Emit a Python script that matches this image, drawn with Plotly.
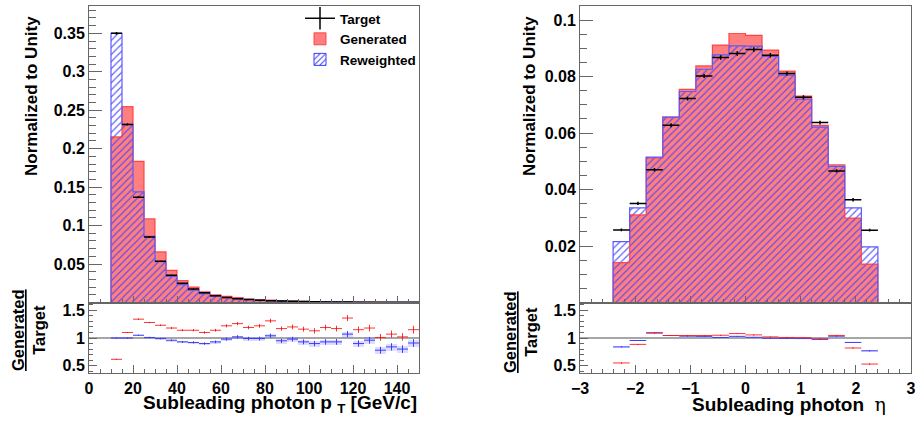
import plotly.graph_objects as go

W, H = 919, 422
FONT = "Liberation Sans, Arial, sans-serif"

# ---------------- data: subleading photon pT (5 GeV bins) ----------------
pt_centers = [12.5, 17.5, 22.5, 27.5, 32.5, 37.5, 42.5, 47.5, 52.5, 57.5,
              62.5, 67.5, 72.5, 77.5, 82.5, 87.5, 92.5, 97.5, 102.5, 107.5,
              112.5, 117.5, 122.5, 127.5, 132.5, 137.5, 142.5, 147.5]
pt_binwidth = 5.0
pt_target = [0.350, 0.2315, 0.137, 0.085, 0.0535, 0.0353, 0.0249, 0.0175, 0.0127, 0.0088,
             0.0066, 0.0050, 0.0038, 0.0030, 0.0024, 0.0019, 0.0015, 0.0012, 0.0010, 0.0008,
             0.00065, 0.00052, 0.00042, 0.00035, 0.00029, 0.00024, 0.0002, 0.00017]
pt_target_err = [0.0018, 0.0015, 0.0012, 0.0010, 0.0008, 0.0007, 0.0006, 0.0005, 0.0004, 0.0004,
                 0.0003, 0.0003, 0.0003, 0.0002, 0.0002, 0.0002, 0.0002, 0.0002, 0.0001, 0.0001,
                 0.0001, 0.0001, 0.0001, 0.0001, 0.0001, 0.0001, 0.0001, 0.0001]
pt_gen_ratio = [0.615, 1.10, 1.34, 1.28, 1.23, 1.18, 1.14, 1.14, 1.10, 1.14,
                1.22, 1.26, 1.19, 1.22, 1.31, 1.17, 1.20, 1.16, 1.13, 1.19,
                1.17, 1.36, 1.15, 1.18, 1.01, 1.07, 1.02, 1.15]
pt_rew_ratio = [1.00, 1.00, 1.05, 1.01, 0.99, 0.96, 0.93, 0.92, 0.90, 0.93,
                0.98, 1.02, 0.99, 0.99, 1.04, 0.95, 0.98, 0.93, 0.90, 0.93,
                0.93, 1.07, 0.90, 0.96, 0.78, 0.84, 0.80, 0.91]
pt_ratio_err = [0.006, 0.008, 0.01, 0.012, 0.014, 0.016, 0.018, 0.02, 0.022, 0.025,
                0.028, 0.03, 0.032, 0.035, 0.038, 0.04, 0.042, 0.045, 0.048, 0.05,
                0.052, 0.055, 0.058, 0.06, 0.062, 0.065, 0.068, 0.07]

# ---------------- data: subleading photon eta (0.3 bins) ----------------
eta_centers = [-2.25, -1.95, -1.65, -1.35, -1.05, -0.75, -0.45, -0.15,
               0.15, 0.45, 0.75, 1.05, 1.35, 1.65, 1.95, 2.25]
eta_binwidth = 0.3
eta_target = [0.0257, 0.0351, 0.0470, 0.0628, 0.0722, 0.0802, 0.0868, 0.0882,
              0.0896, 0.0876, 0.0811, 0.0727, 0.0637, 0.0466, 0.0364, 0.0256]
eta_target_err = [0.0005, 0.0006, 0.0006, 0.0007, 0.0007, 0.0007, 0.0008, 0.0008,
                  0.0008, 0.0008, 0.0007, 0.0007, 0.0007, 0.0006, 0.0006, 0.0005]
eta_gen_ratio = [0.55, 0.885, 1.09, 1.045, 1.045, 1.045, 1.05, 1.08,
                 1.056, 1.02, 1.01, 1.005, 0.985, 1.047, 0.82, 0.53]
eta_rew_ratio = [0.84, 0.955, 1.095, 1.045, 1.035, 1.03, 1.01, 1.03,
                 1.013, 0.995, 0.993, 0.99, 0.975, 1.034, 0.92, 0.77]
eta_ratio_err = [0.01, 0.008, 0.007, 0.006, 0.006, 0.005, 0.005, 0.005,
                 0.005, 0.005, 0.005, 0.006, 0.006, 0.007, 0.008, 0.01]

pt_ticks = [0, 20, 40, 60, 80, 100, 120, 140]
eta_ticks = [-3, -2, -1, 0, 1, 2, 3]
eta_ticktext = ["\u22123", "\u22122", "\u22121", "0", "1", "2", "3"]
ylab_left = [0.05, 0.1, 0.15, 0.2, 0.25, 0.3, 0.35]
ylab_left_text = ["0.05", "0.1", "0.15", "0.2", "0.25", "0.3", "0.35"]
ylab_right = [0.02, 0.04, 0.06, 0.08, 0.1]
ylab_right_text = ["0.02", "0.04", "0.06", "0.08", "0.1"]
ratio_ticks = [0.5, 1, 1.5]
ratio_ticktext = ["0.5", "1", "1.5"]

RED_FILL = "rgba(255,0,0,0.5)"
RED_LINE = "rgba(255,60,60,0.9)"
BLUE = "rgb(60,60,255)"
BLUE_LINE = "rgb(90,90,255)"


def steps(centers, vals, bw):
    xs = [centers[0] - bw / 2]
    ys = [0]
    for c, v in zip(centers, vals):
        xs.append(c - bw / 2)
        ys.append(v)
    xs += [centers[-1] + bw / 2, centers[-1] + bw / 2]
    ys += [vals[-1], 0]
    return xs, ys


fig = go.Figure()


def add_panel(centers, target, terr, gen_r, rew_r, rerr, bw, xa, ya, xr, yr):
    gen = [t * r for t, r in zip(target, gen_r)]
    rew = [t * r for t, r in zip(target, rew_r)]
    half = [bw / 2] * len(centers)
    fig.add_trace(go.Bar(x=centers, y=gen, width=bw, marker=dict(color=RED_FILL, line=dict(width=0)),
                         xaxis=xa, yaxis=ya, showlegend=False, hoverinfo="skip"))
    sx, sy = steps(centers, gen, bw)
    fig.add_trace(go.Scatter(x=sx, y=sy, mode="lines", line=dict(color=RED_LINE, width=1.2, shape="hv"),
                             xaxis=xa, yaxis=ya, showlegend=False, hoverinfo="skip"))
    fig.add_trace(go.Bar(x=centers, y=rew, width=bw,
                         marker=dict(color="rgba(0,0,0,0)", line=dict(width=0),
                                     pattern=dict(shape="/", fgcolor="rgba(70,70,255,0.85)",
                                                  bgcolor="rgba(0,0,0,0)", size=5, solidity=0.25)),
                         xaxis=xa, yaxis=ya, showlegend=False, hoverinfo="skip"))
    sx, sy = steps(centers, rew, bw)
    fig.add_trace(go.Scatter(x=sx, y=sy, mode="lines", line=dict(color=BLUE_LINE, width=1.2, shape="hv"),
                             xaxis=xa, yaxis=ya, showlegend=False, hoverinfo="skip"))
    fig.add_trace(go.Scatter(x=centers, y=target, mode="markers", marker=dict(size=1, color="black"),
                             error_x=dict(type="data", array=half, width=0, thickness=1.5, color="black"),
                             error_y=dict(type="data", array=terr, width=0, thickness=1.5, color="black"),
                             xaxis=xa, yaxis=ya, showlegend=False, hoverinfo="skip"))
    fig.add_trace(go.Bar(x=centers, y=[2 * e for e in rerr], base=[r - e for r, e in zip(rew_r, rerr)],
                         width=bw, marker=dict(color="rgba(120,120,255,0.25)", line=dict(width=0)),
                         xaxis=xr, yaxis=yr, showlegend=False, hoverinfo="skip"))
    fig.add_trace(go.Scatter(x=centers, y=rew_r, mode="markers", marker=dict(size=1, color=BLUE),
                             error_x=dict(type="data", array=half, width=0, thickness=1, color=BLUE),
                             error_y=dict(type="data", array=rerr, width=0, thickness=1, color=BLUE),
                             xaxis=xr, yaxis=yr, showlegend=False, hoverinfo="skip"))
    fig.add_trace(go.Scatter(x=centers, y=gen_r, mode="markers", marker=dict(size=1, color="red"),
                             error_x=dict(type="data", array=half, width=0, thickness=1, color="rgba(255,30,30,0.9)"),
                             error_y=dict(type="data", array=rerr, width=0, thickness=1, color="rgba(255,30,30,0.9)"),
                             xaxis=xr, yaxis=yr, showlegend=False, hoverinfo="skip"))


add_panel(pt_centers, pt_target, pt_target_err, pt_gen_ratio, pt_rew_ratio, pt_ratio_err,
          pt_binwidth, "x", "y", "x2", "y2")
add_panel(eta_centers, eta_target, eta_target_err, eta_gen_ratio, eta_rew_ratio, eta_ratio_err,
          eta_binwidth, "x3", "y3", "x4", "y4")

# legend-only entries
fig.add_trace(go.Scatter(x=[None], y=[None], mode="lines+markers", name="Target", legendrank=1,
                         line=dict(color="black", width=1.5),
                         marker=dict(symbol="line-ns", size=16, color="black",
                                     line=dict(width=1.5, color="black")), xaxis="x", yaxis="y"))
fig.add_trace(go.Bar(x=[None], y=[None], name="Generated", legendrank=2,
                     marker=dict(color=RED_FILL, line=dict(width=1, color=RED_LINE)), xaxis="x", yaxis="y"))
fig.add_trace(go.Bar(x=[None], y=[None], name="Reweighted", legendrank=3,
                     marker=dict(color="rgba(0,0,0,0)", line=dict(width=1, color=BLUE),
                                 pattern=dict(shape="/", fgcolor=BLUE, bgcolor="rgba(0,0,0,0)",
                                              size=5, solidity=0.25)), xaxis="x", yaxis="y"))

px = lambda p: p / W
py = lambda p: 1 - p / H

XL = [px(89), px(419)]
XR = [px(580), px(911)]
YM = [py(302.5), py(6)]
YR = [py(373.3), py(302.5)]

tickfont = dict(family=FONT, size=16, color="black", weight="bold")
LC = "#666666"


def axis(domain, rng, anchor, major_len, minor_len, minor_dtick, tickvals, ticktext, labels=True):
    return dict(domain=domain, range=rng, anchor=anchor, showline=True, mirror=True, linecolor=LC,
                linewidth=1, ticks="inside", ticklen=major_len, tickwidth=1, tickcolor=LC,
                showgrid=False, zeroline=False, showticklabels=labels, tickfont=tickfont,
                automargin=False, fixedrange=True,
                tickmode="array", tickvals=tickvals, ticktext=ticktext,
                minor=dict(ticks="inside", ticklen=minor_len, tickwidth=1, tickcolor=LC,
                           tickmode="linear", dtick=minor_dtick, tick0=0, showgrid=False))


fig.update_layout(
    template="none",
    width=W, height=H, margin=dict(l=0, r=0, t=0, b=0, pad=0, autoexpand=False),
    paper_bgcolor="white", plot_bgcolor="white",
    barmode="overlay", bargap=0,
    font=dict(family=FONT, size=16, color="black", weight="bold"),
    showlegend=True,
    legend=dict(x=px(300), y=py(3), xanchor="left", yanchor="top", bgcolor="rgba(0,0,0,0)",
                borderwidth=0,
                font=dict(family=FONT, size=13.5, color="black", weight="bold"),
                itemwidth=30, tracegroupgap=0, traceorder="normal"),
    xaxis=axis(XL, [0, 150], "y", 7, 4, 5, pt_ticks, [str(t) for t in pt_ticks], labels=False),
    yaxis=axis(YM, [0, 0.3855], "x", 13, 7, 0.01, ylab_left, ylab_left_text),
    xaxis2=axis(XL, [0, 150], "y2", 8, 4, 5, pt_ticks, [str(t) for t in pt_ticks]),
    yaxis2=axis(YR, [0.363, 1.641], "x2", 8, 4, 0.1, ratio_ticks, ratio_ticktext),
    xaxis3=axis(XR, [-3, 3], "y3", 7, 4, 0.2, eta_ticks, eta_ticktext, labels=False),
    yaxis3=axis(YM, [0, 0.105], "x3", 13, 7, 0.005, ylab_right, ylab_right_text),
    xaxis4=axis(XR, [-3, 3], "y4", 8, 4, 0.2, eta_ticks, eta_ticktext),
    yaxis4=axis(YR, [0.363, 1.641], "x4", 8, 4, 0.1, ratio_ticks, ratio_ticktext),
)

for xr, yr in [("x2", "y2"), ("x4", "y4")]:
    fig.add_shape(type="line", xref=xr + " domain", yref=yr, x0=0, x1=1, y0=1, y1=1,
                  line=dict(color="#888888", width=1.5), layer="below")

yfont = dict(family=FONT, size=17, color="black", weight="bold")
rfont = dict(family=FONT, size=16.5, color="black", weight="bold")
xfont = dict(family=FONT, size=19, color="black", weight="bold")
ann = [
    dict(text="Normalized to Unity", x=px(31), y=py(96), textangle=-90, font=yfont),
    dict(text="Normalized to Unity", x=px(529), y=py(96), textangle=-90, font=yfont),
    dict(text="<u>Generated</u><br>Target", x=px(28), y=py(330), textangle=-90, font=rfont),
    dict(text="<u>Generated</u><br>Target", x=px(520), y=py(332), textangle=-90, font=rfont),
]
for a in ann:
    a.update(xref="paper", yref="paper", showarrow=False, xanchor="center", yanchor="middle")
    fig.add_annotation(**a)
fig.add_annotation(text="Subleading photon p <sub>T</sub> [GeV/c]", x=px(419), y=py(404), xref="paper",
                   yref="paper", showarrow=False, font=xfont, xanchor="right", yanchor="middle")
fig.add_annotation(text="Subleading photon  <span style=\"font-family:'DejaVu Serif';font-weight:normal\">\u03b7</span>",
                   x=px(888), y=py(404), xref="paper", yref="paper", showarrow=False, font=xfont,
                   xanchor="right", yanchor="middle")

fig.write_html("out.html")
